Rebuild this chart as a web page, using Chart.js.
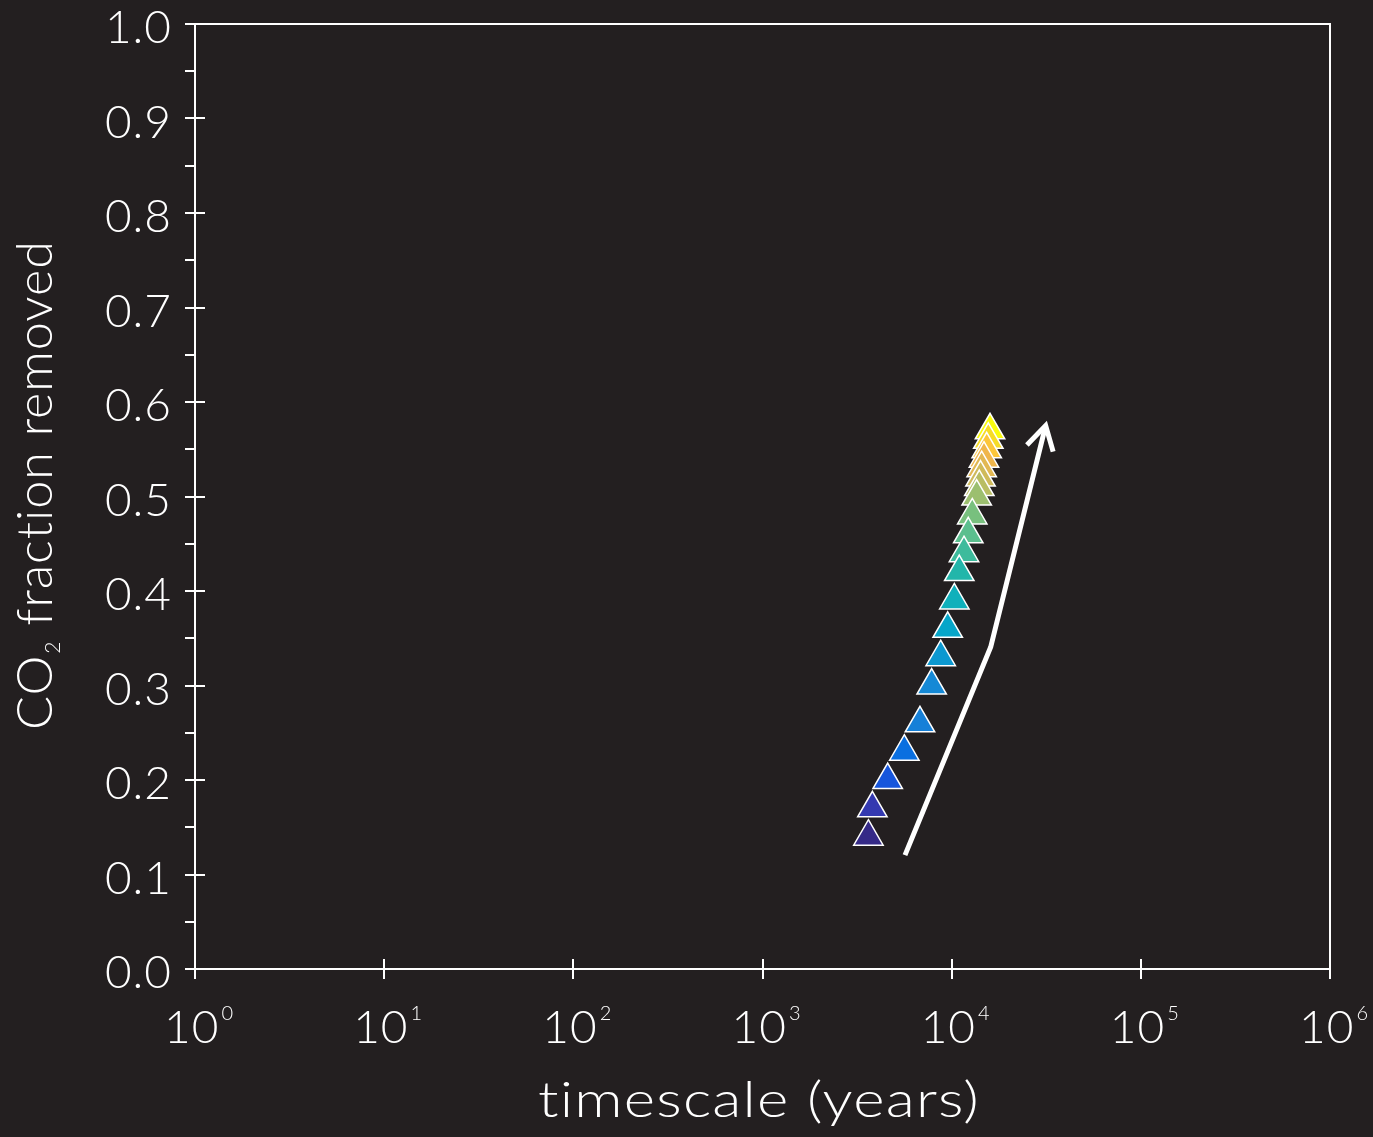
<!DOCTYPE html>
<html>
<head>
<meta charset="utf-8">
<script src="https://cdn.jsdelivr.net/npm/chart.js@4.4.1/dist/chart.umd.min.js"></script>
<style>
  html, body { margin: 0; padding: 0; background: #231f20; }
  canvas { display: block; }
</style>
</head>
<body>
<canvas id="c" width="1373" height="1137"></canvas>
<script>
// ---- data (ordered from the top marker to the bottom marker) ----
const timescaleYears = [15950, 15620, 15320, 14820, 14410, 14210, 14000, 13560, 12850, 12240, 11620, 10970, 10330, 9530, 8750, 7840, 6800, 5620, 4590, 3810, 3630];
const fractionRemoved = [0.57, 0.56, 0.55, 0.54, 0.53, 0.52, 0.51, 0.50, 0.48, 0.46, 0.44, 0.42, 0.39, 0.36, 0.33, 0.30, 0.26, 0.23, 0.20, 0.17, 0.14];

// trend arrow (annotation) in data coordinates
const arrowTimescale = [5666, 16084, 31400];
const arrowFraction = [0.1205, 0.3407, 0.575];

// axis ticks
const yTickValues = [0, 0.1, 0.2, 0.3, 0.4, 0.5, 0.6, 0.7, 0.8, 0.9, 1.0];
const yTickLabels = ['0.0', '0.1', '0.2', '0.3', '0.4', '0.5', '0.6', '0.7', '0.8', '0.9', '1.0'];
const yMinorTickValues = [0.05, 0.15, 0.25, 0.35, 0.45, 0.55, 0.65, 0.75, 0.85, 0.95];
const xTickValues = [1, 10, 100, 1000, 10000, 100000, 1000000];
const xTickBase = '10';
const xTickExponents = ['0', '1', '2', '3', '4', '5', '6'];

const xTitle = 'timescale (years)';
const yTitleParts = ['CO', '2', ' fraction removed'];

// marker colours (parula-like), top to bottom
const markerColors = ['#f9fb0e', '#f6dc26', '#fcc63a', '#f0b64b', '#e2b853', '#cfba5b', '#b9bd63', '#9cbf6f', '#78c07e', '#5bbf8e', '#3dbb9c', '#22b6aa', '#0fb0bb', '#06a6c9', '#0c98d0', '#1589d6', '#1680d8', '#0a6fe0', '#1756dc', '#3439b0', '#352a87'];

const BG = '#231f20';
const FG = '#ffffff';
const FONT = 'Lato, "DejaVu Sans", sans-serif';
const W = '300 ';

const decorPlugin = {
  id: 'decor',
  beforeDraw(chart) {
    const ctx = chart.ctx;
    ctx.save();
    ctx.fillStyle = BG;
    ctx.fillRect(0, 0, chart.width, chart.height);
    ctx.restore();
  },
  afterDatasetsDraw(chart) {
    const {ctx, scales: {x, y}} = chart;
    const n = arrowTimescale.length;
    const p1 = {x: x.getPixelForValue(arrowTimescale[n - 2]), y: y.getPixelForValue(arrowFraction[n - 2])};
    const p2 = {x: x.getPixelForValue(arrowTimescale[n - 1]), y: y.getPixelForValue(arrowFraction[n - 1])};
    const ang = Math.atan2(p1.y - p2.y, p1.x - p2.x);
    const L = 27, spread = Math.PI / 6;
    ctx.save();
    ctx.strokeStyle = FG;
    ctx.lineWidth = 5;
    ctx.lineJoin = 'miter';
    ctx.lineCap = 'butt';
    ctx.beginPath();
    ctx.moveTo(p2.x + L * Math.cos(ang - spread), p2.y + L * Math.sin(ang - spread));
    ctx.lineTo(p2.x, p2.y);
    ctx.lineTo(p2.x + L * Math.cos(ang + spread), p2.y + L * Math.sin(ang + spread));
    ctx.stroke();
    ctx.restore();
  },
  afterDraw(chart) {
    const {ctx, chartArea: a, scales: {x, y}} = chart;
    ctx.save();
    ctx.strokeStyle = FG;
    ctx.fillStyle = FG;
    ctx.lineWidth = 2;
    ctx.lineCap = 'butt';
    const line = (x1, y1, x2, y2) => { ctx.beginPath(); ctx.moveTo(x1, y1); ctx.lineTo(x2, y2); ctx.stroke(); };

    // frame
    ctx.strokeRect(a.left, a.top, a.right - a.left, a.bottom - a.top);

    // y ticks
    yTickValues.forEach(v => { const py = Math.round(y.getPixelForValue(v)); line(a.left - 10, py, a.left + 10, py); });
    yMinorTickValues.forEach(v => { const py = Math.round(y.getPixelForValue(v)); line(a.left - 10, py, a.left, py); });
    // x ticks
    xTickValues.forEach(v => { const px = Math.round(x.getPixelForValue(v)); line(px, a.bottom - 10, px, a.bottom + 10); });

    if ('letterSpacing' in ctx) ctx.letterSpacing = '1px';

    // y tick labels
    ctx.font = W + '46px ' + FONT;
    ctx.textAlign = 'right';
    ctx.textBaseline = 'alphabetic';
    yTickValues.forEach((v, i) => {
      const py = y.getPixelForValue(v);
      ctx.fillText(yTickLabels[i], a.left - 23, py + 19);
    });

    // x tick labels 10^n
    xTickValues.forEach((v, i) => {
      const px = x.getPixelForValue(v);
      ctx.font = W + '46px ' + FONT;
      const w1 = ctx.measureText(xTickBase).width;
      ctx.font = W + '20px ' + FONT;
      const w2 = ctx.measureText(xTickExponents[i]).width;
      const total = w1 + 2 + w2;
      const sx = px - total / 2 + 4;
      ctx.textAlign = 'left';
      ctx.font = W + '46px ' + FONT;
      ctx.fillText(xTickBase, sx, a.bottom + 74);
      ctx.font = W + '20px ' + FONT;
      ctx.fillText(xTickExponents[i], sx + w1 + 2, a.bottom + 51);
    });

    // x title
    ctx.font = W + '50px ' + FONT;
    ctx.textAlign = 'center';
    const tw = ctx.measureText(xTitle).width;
    const sxT = Math.min(1.25, Math.max(0.85, 442 / tw));
    ctx.save();
    ctx.translate(759, 1117);
    ctx.scale(sxT, 1);
    ctx.fillText(xTitle, 0, 0);
    ctx.restore();

    // y title (rotated)
    ctx.font = W + '50px ' + FONT;
    const wA = ctx.measureText(yTitleParts[0]).width;
    const wC = ctx.measureText(yTitleParts[2]).width;
    ctx.font = W + '21px ' + FONT;
    const wB = ctx.measureText(yTitleParts[1]).width;
    const totalY = wA + wB + 1 + wC;
    const syT = Math.min(1.25, Math.max(0.85, 490 / totalY));
    ctx.save();
    ctx.translate(52, 485);
    ctx.rotate(-Math.PI / 2);
    ctx.scale(syT, 1);
    ctx.textAlign = 'left';
    let cx = -totalY / 2;
    ctx.font = W + '50px ' + FONT;
    ctx.fillText(yTitleParts[0], cx, 0);
    cx += wA;
    ctx.font = W + '21px ' + FONT;
    ctx.fillText(yTitleParts[1], cx + 1, 8);
    cx += wB + 1;
    ctx.font = W + '50px ' + FONT;
    ctx.fillText(yTitleParts[2], cx, 0);
    ctx.restore();

    ctx.restore();
  }
};

new Chart(document.getElementById('c').getContext('2d'), {
  type: 'scatter',
  data: {
    datasets: [
      {
        label: 'trend',
        type: 'line',
        showLine: true,
        data: arrowTimescale.map((t, i) => ({x: t, y: arrowFraction[i]})),
        borderColor: FG,
        borderWidth: 5,
        borderJoinStyle: 'miter',
        borderCapStyle: 'butt',
        pointRadius: 0,
        tension: 0,
        fill: false
      },
      {
        label: 'CO2 fraction removed',
        data: timescaleYears.map((t, i) => ({x: t, y: fractionRemoved[i]})),
        pointStyle: 'triangle',
        pointRadius: 17,
        pointHoverRadius: 17,
        backgroundColor: markerColors,
        borderColor: FG,
        borderWidth: 1.5
      }
    ]
  },
  options: {
    responsive: false,
    animation: false,
    devicePixelRatio: 1,
    events: [],
    layout: {padding: {left: 195, right: 43, top: 24, bottom: 168}},
    plugins: {legend: {display: false}, tooltip: {enabled: false}},
    scales: {
      x: {type: 'logarithmic', min: 1, max: 1000000, display: false},
      y: {type: 'linear', min: 0, max: 1, display: false}
    }
  },
  plugins: [decorPlugin]
});
</script>
</body>
</html>
